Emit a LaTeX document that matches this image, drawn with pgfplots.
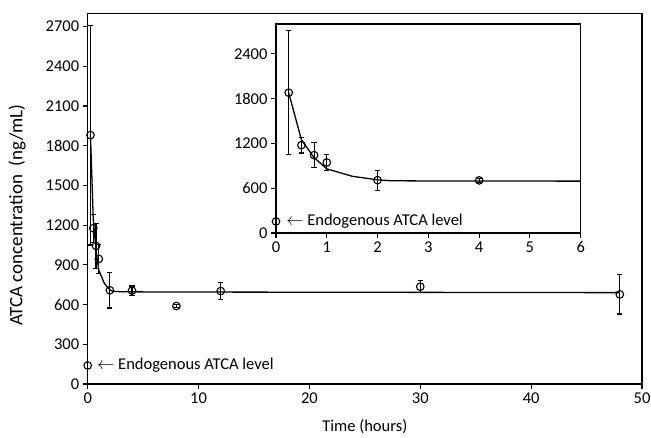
\documentclass[border=0pt]{standalone}
\usepackage{fontspec}
\setmainfont{Carlito}
\usepackage{pgfplots}
\usepackage{pgfplotstable}
\pgfplotsset{compat=1.18}
\pgfplotstableread{
x y e
0.25 1880 830
0.5 1177 105
0.75 1043 168
1 945 112
2 708 134
4 705 35
8 589 10
12 702 67
30 735 45
48 677 148
}\meandata
\pgfplotstableread{
x y e
0.25 1880 830
0.5 1177 105
0.75 1043 168
1 945 112
2 708 134
4 705 28
}\insetdata
\pgfplotstableread{
x y
0.25 1880
0.5 1250
0.75 1010
1 860
1.5 760
2 712
2.25 700
3 697
6 695
48 690
}\fitdata
\pgfplotsset{
  common/.style={
    scale only axis,
    tick align=outside,
    xtick pos=bottom, ytick pos=left,
    major tick length=5pt,
    axis line style={line width=1.2pt},
    every tick/.style={line width=1.1pt, black},
    ticklabel style={font=\fontsize{16.5}{19}\selectfont},
    /pgf/number format/assume math mode=true,
    /pgf/number format/set thousands separator={},
    scaled y ticks=false,
    clip=false,
  },
  errs/.style={only marks, mark=o, black, mark size=3.8pt, mark options={line width=1.1pt},
    error bars/.cd, y dir=both, y explicit,
    error bar style={line width=1.1pt},
    error mark options={rotate=90, mark size=2.6pt, line width=1.1pt}},
}
\begin{document}
\begin{tikzpicture}
\useasboundingbox (-87.7pt,-53pt) rectangle (563.3pt,384pt);
\begin{axis}[common,
  at={(0pt,0pt)}, anchor=south west,
  width=554.3pt, height=370.7pt,
  xmin=0, xmax=50, ymin=0, ymax=2800,
  xtick={0,10,...,50}, ytick={0,300,...,2700},
  xlabel={Time (hours)}, ylabel={ATCA concentration\ \ (ng/mL)},
  xlabel style={font=\fontsize{16.5}{20}\selectfont, at={(axis description cs:0.5,0)}, anchor=center, yshift=-43pt},
  ylabel style={font=\fontsize{19}{22}\selectfont, at={([xshift=-70.7pt]axis description cs:0,0.455)}, anchor=center},
]
\addplot[black, line width=1.3pt, no marks] table[x=x,y=y] {\fitdata};
\addplot+[errs] table[x=x,y=y,y error=e] {\meandata};
\addplot[only marks, mark=o, black, mark size=3.8pt, mark options={line width=1.1pt}] coordinates {(0,140)};
\node[anchor=west, inner sep=0pt, font=\fontsize{16.5}{20}\selectfont] at (axis cs:0.84,140) {$\leftarrow$\ Endogenous ATCA level};
\end{axis}
\begin{axis}[common,
  at={(188.3pt,151pt)}, anchor=south west,
  width=304.7pt, height=209pt,
  xmin=0, xmax=6, ymin=0, ymax=2800,
  xtick={0,1,...,6}, ytick={0,600,...,2400},
]
\addplot[black, line width=1.3pt, no marks] table[x=x,y=y, restrict x to domain=0:6] {\fitdata};
\addplot+[errs] table[x=x,y=y,y error=e] {\insetdata};
\addplot[only marks, mark=o, black, mark size=3.8pt, mark options={line width=1.1pt}] coordinates {(0,155)};
\node[anchor=west, inner sep=0pt, font=\fontsize{16.5}{20}\selectfont] at (axis cs:0.2,155) {$\leftarrow$\ Endogenous ATCA level};
\end{axis}
\end{tikzpicture}
\end{document}
